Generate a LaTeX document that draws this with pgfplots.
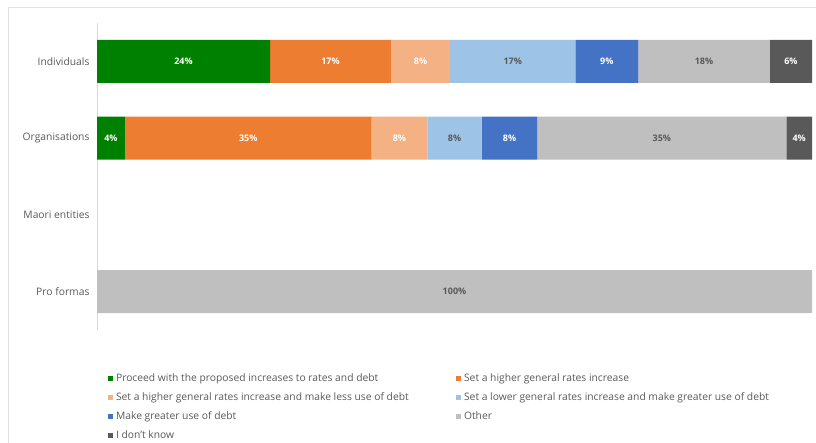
\documentclass[border=0pt]{standalone}
\usepackage{pgfplots}
\pgfplotsset{compat=1.18}
\usepackage{fontspec}
\setmainfont{Open Sans}
\definecolor{cGreen}{HTML}{008000}
\definecolor{cOrange}{HTML}{ED7D31}
\definecolor{cLOrange}{HTML}{F4B183}
\definecolor{cLBlue}{HTML}{9DC3E6}
\definecolor{cBlue}{HTML}{4472C4}
\definecolor{cGrey}{HTML}{BFBFBF}
\definecolor{cDGrey}{HTML}{595959}
\definecolor{txt}{HTML}{595959}
\begin{document}
\begin{tikzpicture}
\path[use as bounding box] (0pt,0pt) rectangle (816pt,443pt);
\draw[black!12,line width=1pt] (8pt,0pt) -- (8pt,435pt) -- (816pt,435pt);
\begin{axis}[
  at={(97pt,113pt)}, anchor=south west,
  scale only axis, width=715pt, height=307pt,
  xbar stacked, bar width=43pt,
  xmin=0, xmax=100,
  ymin=-0.5, ymax=3.5, y dir=reverse,
  ytick={0,1,2,3},
  yticklabels={Individuals,Organisations,Maori entities,Pro formas},
  yticklabel style={font=\fontsize{10.3}{12}\selectfont, text=txt, xshift=-4pt},
  major tick length=0pt,
  axis x line=none,
  axis y line*=left,
  y axis line style={black!15, -},
  point meta=explicit symbolic,
  nodes near coords,
  every node near coord/.append style={anchor=center, font=\fontsize{9}{10}\selectfont\bfseries},
  legend columns=2,
  legend cell align=left,
  legend style={at={(0.011,-0.13)}, anchor=north west, draw=none, fill=none,
     font=\fontsize{10.3}{12}\selectfont, text=txt, row sep=5.6pt,
     /tikz/every odd column/.append style={column sep=1pt}},
  legend image code/.code={\fill[#1] (0pt,-2.5pt) rectangle (5pt,2.5pt);},
]
\addplot+[fill=cGreen, draw=none, every node near coord/.append style={text=white}]
  coordinates {(24.2,0) [24\%] (3.9,1) [4\%] (0,2) [] (0,3) []};
\addlegendentry{\makebox[338pt][l]{Proceed with the proposed increases to rates and debt}}
\addplot+[fill=cOrange, draw=none, every node near coord/.append style={text=white}]
  coordinates {(16.9,0) [17\%] (34.5,1) [35\%] (0,2) [] (0,3) []};
\addlegendentry{Set a higher general rates increase}
\addplot+[fill=cLOrange, draw=none, every node near coord/.append style={text=white}]
  coordinates {(8.3,0) [8\%] (7.8,1) [8\%] (0,2) [] (0,3) []};
\addlegendentry{\makebox[338pt][l]{Set a higher general rates increase and make less use of debt}}
\addplot+[fill=cLBlue, draw=none, every node near coord/.append style={text=cDGrey}]
  coordinates {(17.5,0) [17\%] (7.6,1) [8\%] (0,2) [] (0,3) []};
\addlegendentry{Set a lower general rates increase and make greater use of debt}
\addplot+[fill=cBlue, draw=none, every node near coord/.append style={text=white}]
  coordinates {(8.8,0) [9\%] (7.8,1) [8\%] (0,2) [] (0,3) []};
\addlegendentry{\makebox[338pt][l]{Make greater use of debt}}
\addplot+[fill=cGrey, draw=none, every node near coord/.append style={text=cDGrey}]
  coordinates {(18.4,0) [18\%] (34.8,1) [35\%] (0,2) [] (100,3) [100\%]};
\addlegendentry{Other}
\addplot+[fill=cDGrey, draw=none, every node near coord/.append style={text=white}]
  coordinates {(5.9,0) [6\%] (3.6,1) [4\%] (0,2) [] (0,3) []};
\addlegendentry{I don't know}
\end{axis}
\end{tikzpicture}
\end{document}
